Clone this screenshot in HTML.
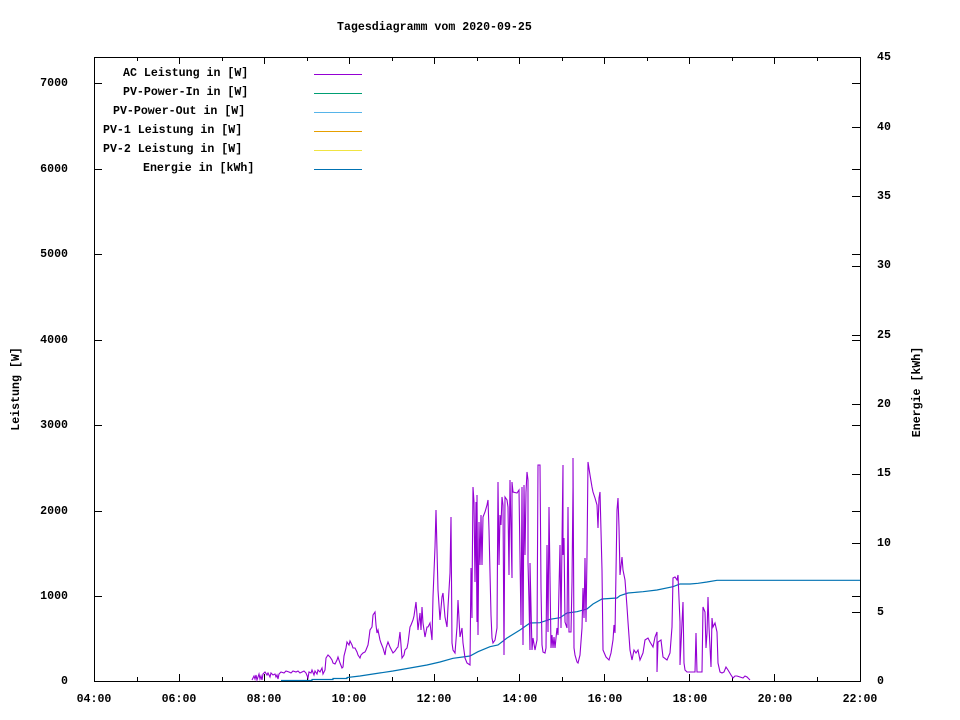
<!DOCTYPE html>
<html><head><meta charset="utf-8"><style>
html,body{margin:0;padding:0;background:#fff;}
svg{display:block;}
text{font-family:"Liberation Mono","DejaVu Sans Mono",monospace;font-weight:bold;font-size:11.6px;fill:#000;}
</style></head><body>
<svg width="960" height="720" viewBox="0 0 960 720" xmlns="http://www.w3.org/2000/svg">
<rect x="0" y="0" width="960" height="720" fill="#fff"/>
<text x="337" y="30">Tagesdiagramm vom 2020-09-25</text>
<g stroke="#000" stroke-width="1" fill="none" shape-rendering="crispEdges">
<rect x="94.5" y="57.5" width="766" height="624"/>
<path d="M94 596.5h8M94 511.5h8M94 425.5h8M94 340.5h8M94 254.5h8M94 169.5h8M94 83.5h8
M860 596.5h-8M860 511.5h-8M860 425.5h-8M860 340.5h-8M860 254.5h-8M860 169.5h-8M860 83.5h-8"/>
<path d="M860 612.5h-8M860 543.5h-8M860 474.5h-8M860 404.5h-8M860 335.5h-8M860 266.5h-8M860 196.5h-8M860 127.5h-8"/>
<path d="M179.5 681v-7M264.5 681v-7M349.5 681v-7M434.5 681v-7M519.5 681v-7M604.5 681v-7M689.5 681v-7M774.5 681v-7
M179.5 57v7M264.5 57v7M349.5 57v7M434.5 57v7M519.5 57v7M604.5 57v7M689.5 57v7M774.5 57v7"/>
<path d="M137.5 681v-4M222.5 681v-4M307.5 681v-4M392.5 681v-4M477.5 681v-4M562.5 681v-4M647.5 681v-4M732.5 681v-4M817.5 681v-4
M137.5 57v4M222.5 57v4M307.5 57v4M392.5 57v4M477.5 57v4M562.5 57v4M647.5 57v4M732.5 57v4M817.5 57v4"/>
</g>
<g text-anchor="end">
<text x="68" y="684">0</text>
<text x="68" y="599">1000</text>
<text x="68" y="514">2000</text>
<text x="68" y="428">3000</text>
<text x="68" y="343">4000</text>
<text x="68" y="257">5000</text>
<text x="68" y="172">6000</text>
<text x="68" y="86">7000</text>
</g>
<g text-anchor="start">
<text x="877" y="684">0</text>
<text x="877" y="615">5</text>
<text x="877" y="546">10</text>
<text x="877" y="476">15</text>
<text x="877" y="407">20</text>
<text x="877" y="338">25</text>
<text x="877" y="268">30</text>
<text x="877" y="199">35</text>
<text x="877" y="130">40</text>
<text x="877" y="60">45</text>
</g>
<g text-anchor="middle">
<text x="94" y="702">04:00</text>
<text x="179" y="702">06:00</text>
<text x="264" y="702">08:00</text>
<text x="349" y="702">10:00</text>
<text x="434" y="702">12:00</text>
<text x="520" y="702">14:00</text>
<text x="605" y="702">16:00</text>
<text x="690" y="702">18:00</text>
<text x="775" y="702">20:00</text>
<text x="860" y="702">22:00</text>
</g>
<text text-anchor="middle" transform="translate(19,389) rotate(-90)">Leistung [W]</text>
<text text-anchor="middle" transform="translate(920,392) rotate(-90)">Energie [kWh]</text>
<text x="123" y="76">AC Leistung in [W]</text>
<text x="123" y="95">PV-Power-In in [W]</text>
<text x="113" y="114">PV-Power-Out in [W]</text>
<text x="103" y="133">PV-1 Leistung in [W]</text>
<text x="103" y="152">PV-2 Leistung in [W]</text>
<text x="143" y="171">Energie in [kWh]</text>
<g stroke-width="1" shape-rendering="crispEdges">
<path d="M314 74.5h48" stroke="#9400d3"/>
<path d="M314 93.5h48" stroke="#009e73"/>
<path d="M314 112.5h48" stroke="#56b4e9"/>
<path d="M314 131.5h48" stroke="#e69f00"/>
<path d="M314 150.5h48" stroke="#f0e442"/>
<path d="M314 169.5h48" stroke="#0072b2"/>
</g>
<polyline fill="none" stroke="#0072b2" stroke-width="1.2" points="281,680.5 312,680.5 312,679.5 333,679.5 333,678.5 347,678.5 347,677.5 360,676 373,674 393,671 410,668 427,665 440,662 453,658.3 470,656 478,651.7 490,646.7 498,645 507,638 520,630 530,623 540,622.7 550,619.3 560,617.7 567,613 577,611.7 587,609 593,604 602,599 617,598 620,595.7 628,593 643,591.7 657,590 673,586.7 680,584 690,584 698,583.3 707,582 717,580.3 860,580.3"/>
<polyline fill="none" stroke="#9400d3" stroke-width="1.1" points="252,680 254,676 255,679 256,675 257,680 258,677 259,674 260,679 261,676 262,680 263,674 265,672 267,675 268,673 270,677 271,673 273,675 275,674 276,677 277,675 278,679 279,674 281,672 284,673 286,671 289,672 291,673 293,671 296,672 298,671 300,673 302,672 304,671 306,673 308,678 309,672 311,673 312,670 314,675 315,671 317,674 318,670 320,672 322,668 323,674 325,670 326,658 328,655 330,657 332,660 333,663 335,664 337,660 338,657 340,663 342,668 343,667 344,656 346,648 347,642 349,645 350,641 352,645 353,648 355,648 357,652 358,655 360,658 361,655 363,653 365,652 366,650 368,645 369,638 370,630 372,627 373,615 375,612 376,625 377,633 378,630 380,640 381,643 383,648 385,655 386,648 388,642 390,647 392,651 393,653 395,651 397,648 398,647 399,640 400,632 401,645 402,658 404,655 405,650 407,648 408,643 410,627 411,625 413,620 414,616 416,602 417,615 418,630 420,613 421,630 422,607 423,623 425,637 427,627 428,627 430,623 432,640 433,597 435,547 436,510 437,550 438,590 440,620 442,597 443,593 445,617 447,627 448,607 450,573 451,517 452,643 453,650 455,653 457,627 458,600 460,637 462,628 463,643 465,658 467,663 470,665 471,568 472,618 472,598 473,487 474,502 475,582 476,502 477,622 477,495 478,635 479,522 480,565 481,515 482,565 483,517 485,512 487,505 488,500 489,530 491,615 492,638 493,643 495,640 497,628 498,482 499,565 500,515 501,525 502,497 503,505 504,655 505,497 507,500 508,507 509,575 510,480 512,578 512,482 513,492 517,493 519,490 521,625 522,487 523,645 524,485 525,555 526,492 527,472 528,480 528,562 529,602 530,650 530,563 532,650 533,638 535,650 537,640 538,465 540,465 541,588 542,645 543,652 545,653 546,648 547,545 548,632 549,507 551,648 552,635 553,648 554,637 555,648 557,628 558,635 559,588 560,545 561,628 562,542 563,465 563,555 564,538 565,622 567,628 568,507 569,632 571,632 572,582 573,487 573,458 574,648 575,655 577,662 578,663 580,655 582,628 583,588 584,618 585,558 586,622 587,555 588,462 590,475 592,487 593,492 595,498 597,505 598,528 599,498 600,492 602,570 603,650 606,657 609,660 611,653 613,640 614,625 615,633 617,510 618,498 619,527 620,575 622,557 623,570 625,580 627,607 628,622 630,650 632,660 634,650 636,653 638,650 640,660 643,653 645,640 648,638 650,642 653,647 655,637 657,632 657,672 658,642 661,640 663,657 667,660 670,653 672,627 673,578 675,577 677,580 678,575 680,622 680,665 683,602 684,663 685,670 687,672 695,672 696,633 697,672 702,672 703,607 705,612 706,648 707,633 708,597 709,627 711,667 712,618 713,627 715,623 717,632 718,663 720,672 722,673 724,672 726,667 728,670 731,675 733,678 735,676 737,676 740,677 743,678 745,676 747,677 750,680"/>
</svg>
</body></html>
